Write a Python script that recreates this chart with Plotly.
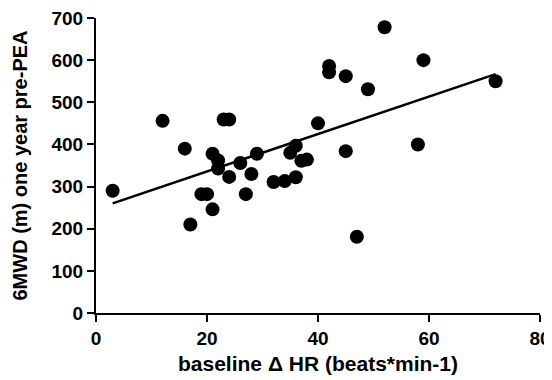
import numpy as np
import plotly.graph_objects as go

hr = [3, 12, 16, 17, 19, 20, 21, 21, 22, 22, 23, 24, 24, 26, 27, 28, 29,
      32, 34, 35, 36, 36, 37, 38, 40, 42, 42, 45, 45, 47, 49, 52, 58, 59, 72]
mwd = [290, 456, 390, 210, 282, 282, 246, 378, 362, 343, 459, 459, 323, 356,
       282, 330, 378, 311, 313, 380, 397, 322, 361, 364, 450, 586, 571, 562,
       384, 181, 531, 678, 400, 600, 550]

x_ticks = [0, 20, 40, 60, 80]
y_ticks = [0, 100, 200, 300, 400, 500, 600, 700]

slope, intercept = np.polyfit(hr, mwd, 1)
fit_x = [min(hr), max(hr)]
fit_y = [slope * v + intercept for v in fit_x]

fig = go.Figure()
fig.add_trace(go.Scatter(x=fit_x, y=fit_y, mode="lines",
                         line=dict(color="black", width=2.5), showlegend=False,
                         cliponaxis=False))
fig.add_trace(go.Scatter(x=hr, y=mwd, mode="markers",
                         marker=dict(color="black", size=14, line=dict(width=0)),
                         showlegend=False, cliponaxis=False))

font = "Liberation Sans, Arial, sans-serif"
fig.update_layout(
    width=544, height=372,
    margin=dict(l=88, r=12, t=10, b=67),
    paper_bgcolor="white", plot_bgcolor="white",
    font=dict(family=font, color="black"),
    xaxis=dict(range=[0, 80], tickvals=x_ticks,
               ticktext=[f"<b>{v}</b>" for v in x_ticks],
               ticks="outside", ticklen=7, automargin=False,
               ticklabeloverflow="allow",
               tickwidth=2, tickcolor="black", showline=True, linewidth=2,
               linecolor="black", showgrid=False, zeroline=False,
               tickfont=dict(size=19, family=font),
               title=dict(text="<b>baseline Δ HR (beats*min-1)</b>",
                          font=dict(size=21, family=font), standoff=9)),
    yaxis=dict(range=[0, 700], tickvals=y_ticks,
               ticktext=[f"<b>{v}</b>" for v in y_ticks],
               ticks="outside", ticklen=7, automargin=False,
               ticklabeloverflow="allow",
               tickwidth=2, tickcolor="black", showline=True, linewidth=2,
               linecolor="black", showgrid=False, zeroline=False,
               tickfont=dict(size=19, family=font),
               title=dict(text="<b>6MWD (m) one year pre-PEA</b>",
                          font=dict(size=20, family=font), standoff=18)),
)
fig.write_html("out.html")
